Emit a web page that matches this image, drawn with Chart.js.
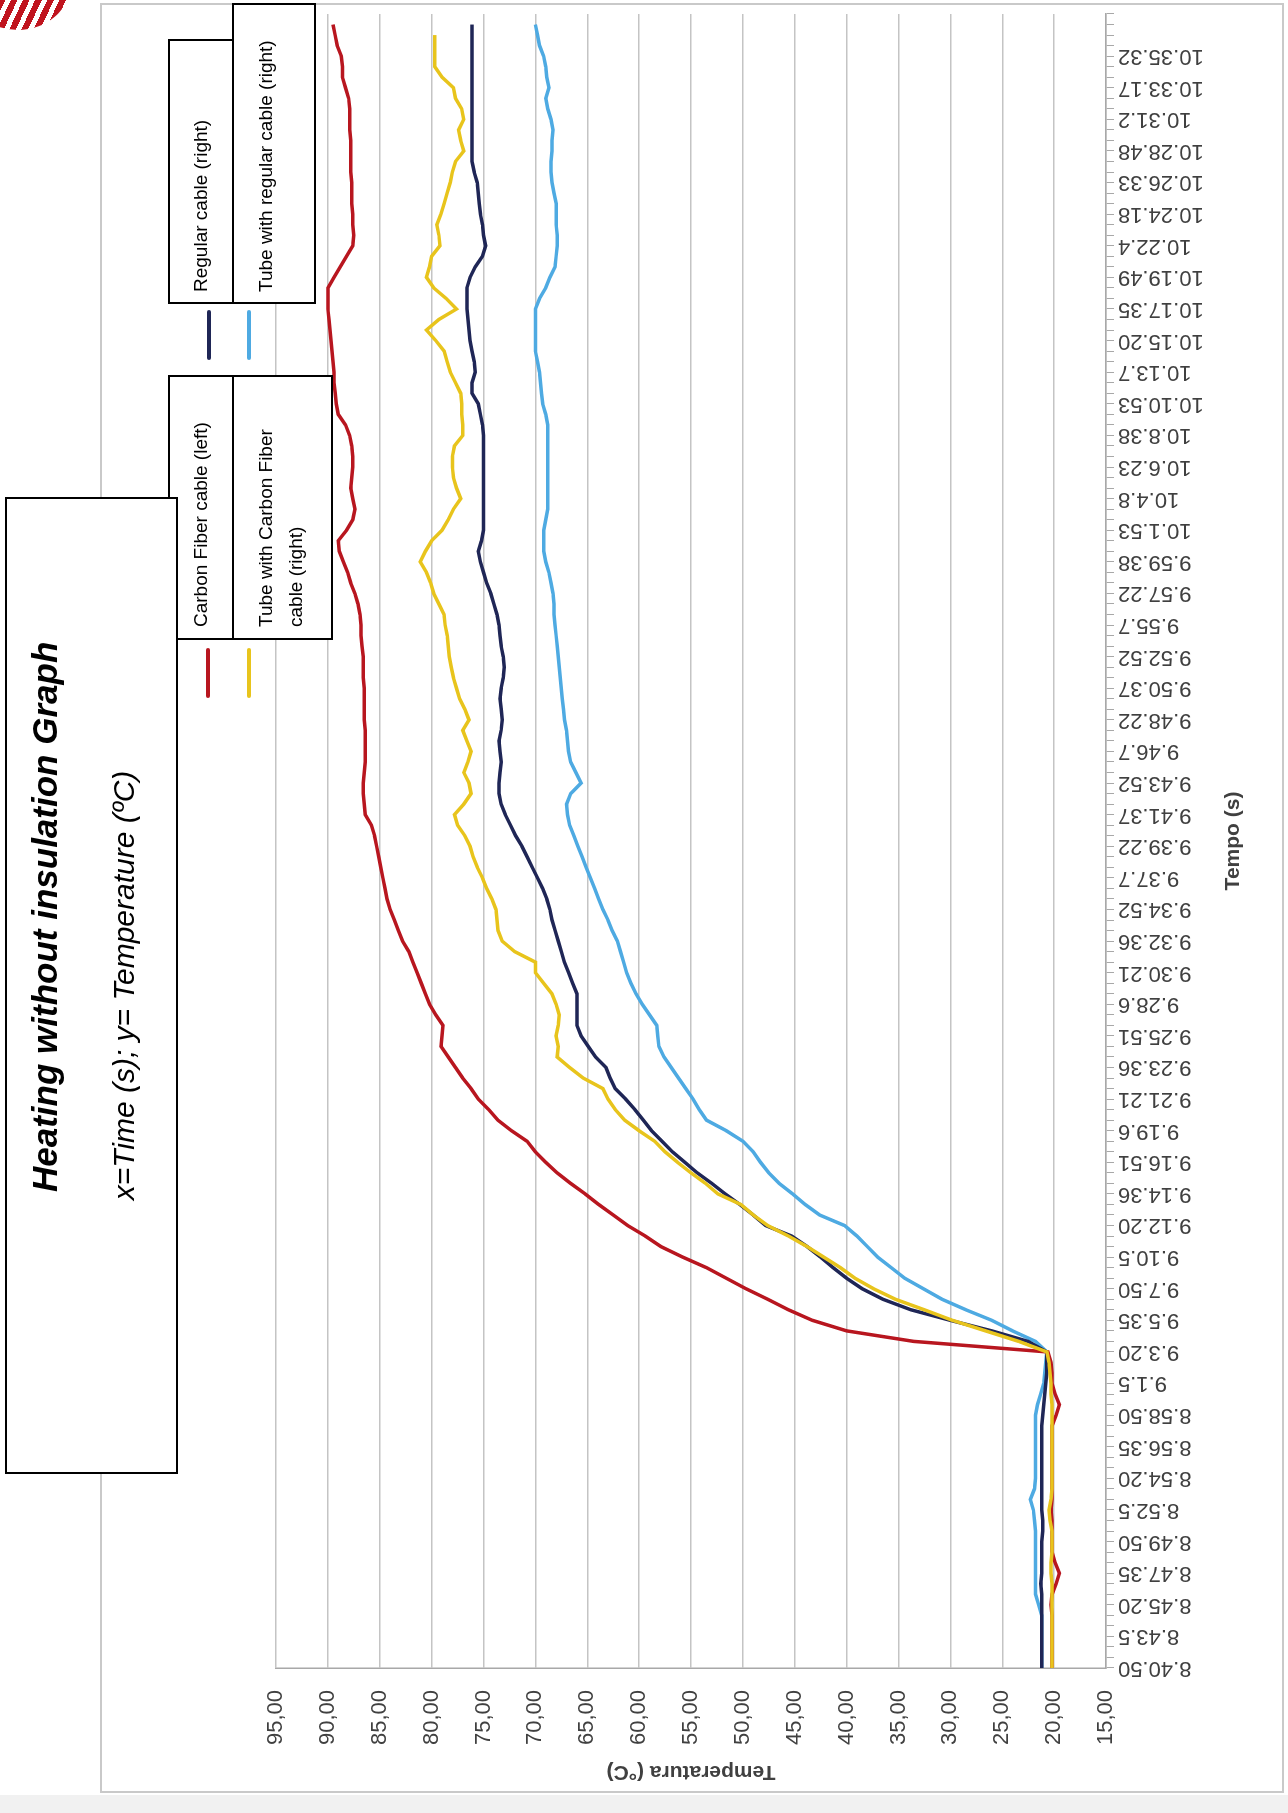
<!DOCTYPE html>
<html>
<head>
<meta charset="utf-8">
<script src="https://cdn.jsdelivr.net/npm/chart.js"></script>
<style>
  html, body { margin: 0; padding: 0; background: #fff; }
  body { width: 1288px; height: 1813px; position: relative; overflow: hidden;
         font-family: 'Liberation Sans', Arial, sans-serif; }
  #strip { position: absolute; left: 0; top: 1795px; width: 1288px; height: 18px; background: #f1f1f1; }
  #logo { position: absolute; left: -34px; top: -60px; width: 104px; height: 90px; border-radius: 50%;
          background: repeating-linear-gradient(115deg, #c0141e 0 6px, #fff 6px 11px); }
  /* the whole sheet is laid out landscape and turned a quarter turn */
  #stage { position: absolute; left: 0; top: 0; width: 1813px; height: 1288px;
           transform-origin: 0 0; transform: translateY(1813px) rotate(-90deg); }
  #frame { position: absolute; left: 20px; top: 100px; width: 1790px; height: 1184px;
           box-sizing: border-box; border: 2px solid #c9c9c9; background: #fff; }
  #chart { position: absolute; left: 0; top: 0; }
  .box { position: absolute; box-sizing: border-box; border: 2px solid #000; background: #fff; }
  .txt { position: absolute; white-space: nowrap; color: #000; font-size: 19px; line-height: 30px; }
  .mark { position: absolute; height: 4px; width: 50px; border-radius: 2px; }
  .ttl { position: absolute; white-space: nowrap; color: #000;
         font-family: 'Liberation Sans', Arial, sans-serif; font-style: italic; }
</style>
</head>
<body>
<div id="strip"></div>
<div id="logo"></div>
<div id="stage">
  <div id="frame"></div>
  <canvas id="chart" width="1813" height="1288"></canvas>

  <!-- legend -->
  <div class="mark" id="mk0" style="left:1115px;top:206px"></div>
  <div class="mark" id="mk1" style="left:1115px;top:247px"></div>
  <div class="mark" id="mk2" style="left:1453px;top:207px"></div>
  <div class="mark" id="mk3" style="left:1453px;top:247px"></div>

  <div class="box" style="left:1173px;top:168px;width:265px;height:66px"></div>
  <div class="box" style="left:1173px;top:232px;width:265px;height:101px"></div>
  <div class="txt" style="left:1186px;top:186px">Carbon Fiber cable (left)</div>
  <div class="txt" style="left:1186px;top:251px">Tube with Carbon Fiber</div>
  <div class="txt" style="left:1186px;top:281px">cable (right)</div>

  <div class="box" style="left:1509px;top:168px;width:265px;height:66px"></div>
  <div class="box" style="left:1509px;top:232px;width:301px;height:84px"></div>
  <div class="txt" style="left:1521px;top:186px">Regular cable (right)</div>
  <div class="txt" style="left:1521px;top:251px">Tube with regular cable (right)</div>

  <!-- title block -->
  <div class="box" style="left:339px;top:5px;width:977px;height:173px">
    <div class="ttl" style="left:280px;top:18px;font-weight:bold;font-size:35px;line-height:40px">Heating without insulation Graph</div>
    <div class="ttl" style="left:0;width:100%;text-align:center;top:97px;font-size:30px;line-height:40px">x=Time (s); y= Temperature (ºC)</div>
  </div>
</div>

<script>
// time stamps printed on the time axis (one every third reading)
const timeTicks = ['8.40.50','8.43.5','8.45.20','8.47.35','8.49.50','8.52.5','8.54.20','8.56.35','8.58.50',
  '9.1.5','9.3.20','9.5.35','9.7.50','9.10.5','9.12.20','9.14.36','9.16.51','9.19.6','9.21.21','9.23.36',
  '9.25.51','9.28.6','9.30.21','9.32.36','9.34.52','9.37.7','9.39.22','9.41.37','9.43.52','9.46.7',
  '9.48.22','9.50.37','9.52.52','9.55.7','9.57.22','9.59.38','10.1.53','10.4.8','10.6.23','10.8.38',
  '10.10.53','10.13.7','10.15.20','10.17.35','10.19.49','10.22.4','10.24.18','10.26.33','10.28.48',
  '10.31.2','10.33.17','10.35.32'];
const readingsOnAxis = 158;
const labelEvery = 3;

// temperature readings (°C)
const carbonFiber = [
  20.2,20.2,20.2,20.2,20.2,20.2,20.3,20.2,19.8,19.5,
  19.9,20.2,20.2,20.2,20.2,20.3,20.2,20.2,20.2,20.2,
  20.2,20.2,20.2,20.2,19.8,19.5,19.9,20.2,20.2,20.3,
  20.6,33.5,40.0,43.3,45.6,47.6,49.7,51.6,53.5,55.8,
  57.9,59.4,61.1,62.5,63.9,65.2,66.6,67.9,69.0,70.0,
  70.8,72.3,73.6,74.5,75.5,76.2,77.0,77.7,78.4,79.1,
  79.0,78.9,79.6,80.2,80.6,81.0,81.4,81.8,82.2,82.8,
  83.2,83.6,84.0,84.3,84.5,84.7,84.9,85.1,85.3,85.5,
  85.8,86.4,86.5,86.6,86.6,86.5,86.4,86.4,86.4,86.4,
  86.5,86.5,86.5,86.5,86.6,86.6,86.6,86.7,86.8,86.8,
  86.9,87.1,87.4,87.8,88.1,88.5,88.9,89.0,88.2,87.6,
  87.4,87.6,87.8,87.7,87.6,87.6,87.7,87.9,88.3,89.0,
  89.2,89.3,89.4,89.4,89.5,89.6,89.7,89.8,89.9,90.0,
  90.0,90.0,89.4,88.8,88.2,87.6,87.5,87.6,87.6,87.7,
  87.7,87.7,87.8,87.8,87.8,87.8,87.9,87.9,87.9,88.0,
  88.3,88.6,88.6,88.7,89.1,89.3,89.5];

const tubeCarbonFiber = [
  20.2,20.2,20.2,20.2,20.2,20.2,20.2,20.2,20.2,20.3,
  20.3,20.2,20.2,20.2,20.4,20.5,20.3,20.2,20.2,20.2,
  20.2,20.2,20.2,20.2,20.2,20.2,20.3,20.3,20.4,20.5,
  20.7,23.4,26.6,29.8,32.5,35.3,37.4,39.2,40.6,42.2,
  43.8,45.6,47.6,49.0,50.2,52.4,53.6,55.0,56.3,57.5,
  58.5,60.0,61.4,62.3,63.0,63.5,65.4,66.7,67.9,67.8,
  68.0,67.8,67.7,68.0,68.4,69.2,70.0,70.0,72.0,73.2,
  73.6,73.7,73.8,74.2,74.7,75.1,75.6,76.0,76.3,76.8,
  77.5,77.8,76.9,76.2,76.4,76.9,76.5,76.2,76.6,77.0,
  76.4,76.8,77.3,77.6,77.9,78.1,78.3,78.4,78.5,78.7,
  78.8,79.3,79.8,80.1,80.5,81.1,80.6,80.0,79.0,78.4,
  77.9,77.2,77.6,77.9,78.0,78.0,77.8,77.0,77.0,77.1,
  77.1,77.2,77.7,78.2,78.5,78.8,79.6,80.5,79.3,77.6,
  78.6,79.8,80.5,80.2,80.0,79.2,79.3,79.5,79.1,78.8,
  78.5,78.2,78.0,77.7,76.9,77.2,77.4,76.9,77.1,77.7,
  77.9,79.0,79.7,79.7,79.7,79.7];

const regularCable = [
  21.2,21.2,21.2,21.2,21.2,21.2,21.2,21.2,21.3,21.2,
  21.2,21.2,21.2,21.1,21.1,21.2,21.2,21.2,21.2,21.2,
  21.2,21.2,21.2,21.2,21.1,21.0,20.9,20.8,20.7,20.7,
  20.7,22.5,26.0,30.0,33.8,36.5,38.5,40.0,41.3,42.5,
  43.8,45.3,47.8,49.0,50.3,51.7,53.0,54.4,55.6,56.8,
  57.8,58.8,59.6,60.4,61.3,62.3,62.8,63.2,64.2,64.9,
  65.6,66.0,66.0,66.0,66.0,66.4,66.8,67.2,67.5,67.8,
  68.1,68.4,68.6,68.9,69.3,69.8,70.3,70.8,71.3,71.9,
  72.4,72.9,73.3,73.5,73.5,73.4,73.3,73.4,73.5,73.3,
  73.2,73.3,73.4,73.3,73.1,73.0,73.1,73.3,73.4,73.5,
  73.7,74.0,74.3,74.7,75.0,75.3,75.5,75.2,75.0,75.0,
  75.0,75.0,75.0,75.0,75.0,75.0,75.0,75.0,75.1,75.3,
  75.5,76.1,76.1,75.8,75.9,76.1,76.3,76.4,76.5,76.6,
  76.6,76.6,76.3,75.8,75.1,74.8,75.0,75.1,75.3,75.4,
  75.5,75.6,75.9,76.1,76.1,76.1,76.1,76.1,76.1,76.1,
  76.1,76.1,76.1,76.1,76.1,76.1,76.1];

const tubeRegularCable = [
  21.2,21.2,21.2,21.2,21.2,21.2,21.5,21.8,21.8,21.8,
  21.8,21.8,21.8,21.8,21.9,22.0,22.3,21.9,21.8,21.8,
  21.8,21.8,21.8,21.8,21.8,21.6,21.3,21.0,20.9,20.8,
  20.7,21.8,24.0,26.0,28.5,30.8,32.6,34.4,35.7,37.0,
  38.0,39.0,40.2,42.6,44.0,45.2,46.5,47.5,48.3,49.0,
  50.0,51.6,53.5,54.2,54.8,55.5,56.2,56.9,57.6,58.1,
  58.2,58.3,59.0,59.7,60.3,60.8,61.2,61.5,61.8,62.1,
  62.6,63.0,63.5,63.9,64.3,64.7,65.1,65.5,65.9,66.3,
  66.7,66.9,67.0,66.6,65.6,66.1,66.6,66.8,66.9,67.0,
  67.2,67.3,67.4,67.5,67.6,67.7,67.8,67.9,68.0,68.1,
  68.2,68.2,68.3,68.5,68.7,69.0,69.2,69.2,69.2,69.0,
  68.8,68.8,68.8,68.8,68.8,68.8,68.8,68.8,68.8,69.0,
  69.3,69.4,69.5,69.6,69.8,70.0,70.0,70.0,70.0,70.0,
  69.6,69.0,68.6,68.1,68.0,67.9,67.9,68.0,68.0,68.0,
  68.2,68.4,68.5,68.5,68.4,68.4,68.3,68.5,68.8,69.0,
  68.7,68.9,69.0,69.2,69.6,69.8,70.0];

const tempMin = 15, tempMax = 95, tempStep = 5;

const seriesColors = {
  carbon: '#b8161f',
  tubeCarbon: '#e8c41c',
  regular: '#1f2656',
  tubeRegular: '#4eaae2'
};

// legend samples take the series colours
['carbon', 'tubeCarbon', 'regular', 'tubeRegular'].forEach((k, i) => {
  document.getElementById('mk' + i).style.background = seriesColors[k];
});

// one slot per reading; only every third slot carries a printed time
const categories = Array.from({ length: readingsOnAxis }, (_, i) =>
  (i % labelEvery === 0 && timeTicks[i / labelEvery]) ? timeTicks[i / labelEvery] : '');

const FONT = "'Liberation Sans', Arial, sans-serif";
const TEXT = '#404040';

function line(label, data, color) {
  return { label, data, borderColor: color, backgroundColor: color, borderWidth: 3.5,
           pointRadius: 0, tension: 0, fill: false, spanGaps: false };
}

new Chart(document.getElementById('chart'), {
  type: 'line',
  data: {
    labels: categories,
    datasets: [
      line('Tube with Carbon Fiber cable (right)', tubeCarbonFiber, seriesColors.tubeCarbon),
      line('Carbon Fiber cable (left)', carbonFiber, seriesColors.carbon),
      line('Regular cable (right)', regularCable, seriesColors.regular),
      line('Tube with regular cable (right)', tubeRegularCable, seriesColors.tubeRegular)
    ]
  },
  options: {
    responsive: false,
    animation: false,
    devicePixelRatio: 1,
    layout: { padding: { left: 20, right: 14, top: 276, bottom: 4 } },
    plugins: { legend: { display: false }, tooltip: { enabled: false } },
    scales: {
      x: {
        type: 'category',
        offset: false,
        grid: { display: true, drawOnChartArea: false, drawTicks: true, tickLength: 8,
                color: '#a8a8a8', lineWidth: 1 },
        border: { display: true, color: '#a8a8a8', width: 1.5 },
        ticks: {
          autoSkip: false, minRotation: 90, maxRotation: 90, padding: 4,
          color: TEXT, font: { family: FONT, size: 22 },
          callback: (v, i) => categories[i]
        },
        title: { display: true, text: 'Tempo (s)', color: TEXT,
                 font: { family: FONT, size: 21, weight: 'bold' }, padding: { top: 0, bottom: 38 } },
        afterFit: s => { s.height = 178; s.paddingLeft = 0; s.paddingRight = 0; }
      },
      y: {
        min: tempMin, max: tempMax,
        grid: { color: '#c4c4c4', lineWidth: 1.5, drawTicks: false },
        border: { display: true, color: '#a8a8a8', width: 1.5 },
        ticks: {
          stepSize: tempStep, padding: 22, color: TEXT, font: { family: FONT, size: 22 },
          callback: v => v.toFixed(2).replace('.', ',')
        },
        title: { display: true, text: 'Temperatura (°C)', color: TEXT,
                 font: { family: FONT, size: 21, weight: 'bold' }, padding: { top: 9, bottom: 0 } },
        afterFit: s => { s.width = 125; s.paddingTop = 0; s.paddingBottom = 0; }
      }
    }
  }
});
</script>
</body>
</html>
